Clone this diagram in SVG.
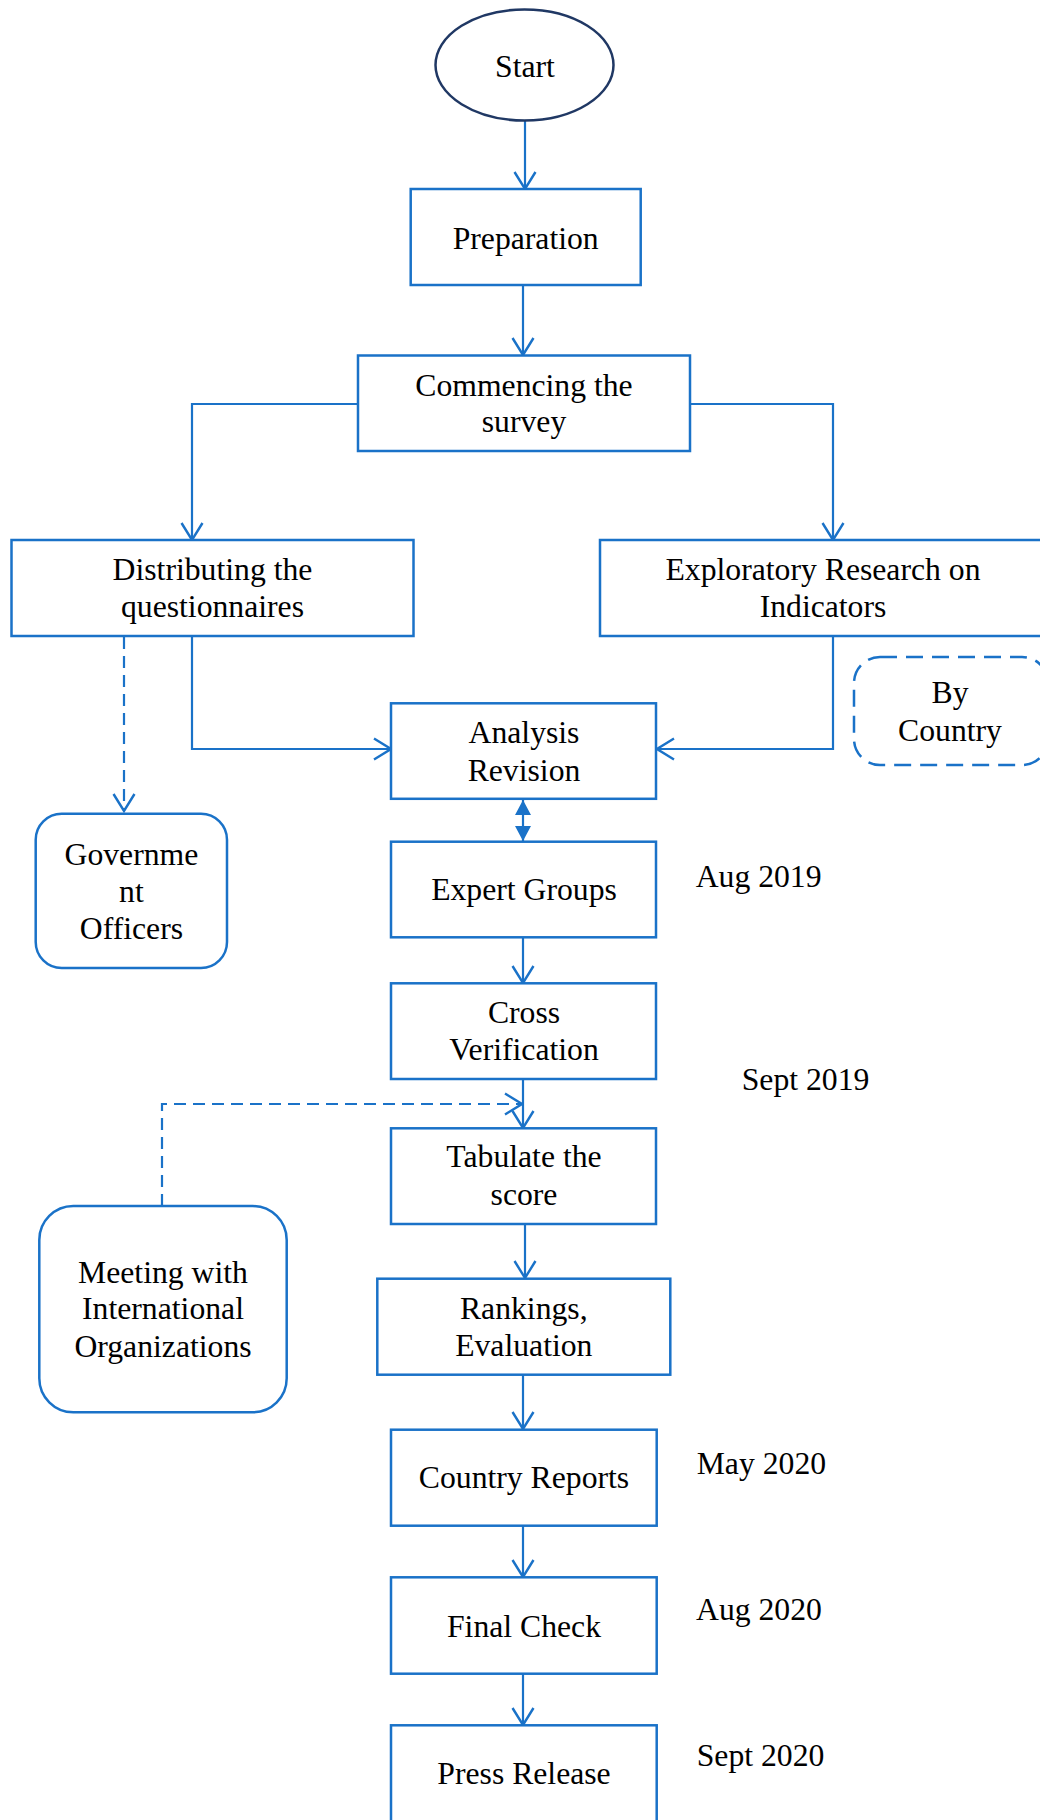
<svg xmlns="http://www.w3.org/2000/svg" width="1040" height="1820" viewBox="0 0 1040 1820">
<style>
.box{fill:#fff;stroke:#1a72c8;stroke-width:2.5}
.rbox{fill:#fff;stroke:#1a72c8;stroke-width:2.5}
.dbox{fill:#fff;stroke:#1a72c8;stroke-width:2.5;stroke-dasharray:17 9}
.t{font-family:"Liberation Serif","Times New Roman",serif;font-size:31.7px;fill:#000;text-anchor:middle}
.d{font-family:"Liberation Serif","Times New Roman",serif;font-size:31.7px;fill:#000}
.c{fill:none;stroke:#1a72c8;stroke-width:2.2}
.dash{stroke-dasharray:12 7}
</style>
<defs>
<marker id="arr" viewBox="0 0 20 24" refX="18" refY="12" markerWidth="20" markerHeight="24" markerUnits="userSpaceOnUse" orient="auto">
<path d="M1,1.5 L18,12 L1,22.5" fill="none" stroke="#1a72c8" stroke-width="2.4"/>
</marker>
<marker id="tri" viewBox="0 0 16 18" refX="15" refY="9" markerWidth="16" markerHeight="18" markerUnits="userSpaceOnUse" orient="auto-start-reverse">
<path d="M0,1 L15,9 L0,17 Z" fill="#1a72c8"/>
</marker>
</defs>

<g id="connectors">
<path class="c" d="M525,120 V189" marker-end="url(#arr)"/>
<path class="c" d="M523,285 V355" marker-end="url(#arr)"/>
<path class="c" d="M358,404 H192 V540" marker-end="url(#arr)"/>
<path class="c" d="M690,404 H833 V540" marker-end="url(#arr)"/>
<path class="c" d="M192,636 V749 H391" marker-end="url(#arr)"/>
<path class="c" d="M833,636 V749 H657" marker-end="url(#arr)"/>
<path class="c dash" d="M124,637 V811" marker-end="url(#arr)"/>
<path class="c" d="M523,800 V841" marker-start="url(#tri)" marker-end="url(#tri)"/>
<path class="c" d="M523,937 V983" marker-end="url(#arr)"/>
<path class="c" d="M523,1079 V1128" marker-end="url(#arr)"/>
<path class="c dash" d="M162,1206 V1104 H522" marker-end="url(#arr)"/>
<path class="c" d="M525,1224 V1278" marker-end="url(#arr)"/>
<path class="c" d="M523,1375 V1429" marker-end="url(#arr)"/>
<path class="c" d="M523,1525 V1577" marker-end="url(#arr)"/>
<path class="c" d="M523,1674 V1725" marker-end="url(#arr)"/>
</g>

<g id="start">
<ellipse cx="524.5" cy="65" rx="89" ry="55.5" fill="#fff" stroke="#203864" stroke-width="2.5"/>
<text class="t" x="525" y="77">Start</text>
</g>
<g id="preparation">
<rect class="box" x="410.7" y="189" width="230" height="96"/>
<text class="t" x="525.7" y="249">Preparation</text>
</g>
<g id="commencing">
<rect class="box" x="358" y="355.5" width="332" height="95.5"/>
<text class="t" x="524" y="395.7">Commencing the</text>
<text class="t" x="524" y="431.7">survey</text>
</g>
<g id="distributing">
<rect class="box" x="11.5" y="540" width="402" height="96"/>
<text class="t" x="212.5" y="580">Distributing the</text>
<text class="t" x="212.5" y="617">questionnaires</text>
</g>
<g id="exploratory">
<rect class="box" x="600" y="540" width="446" height="96"/>
<text class="t" x="823" y="580">Exploratory Research on</text>
<text class="t" x="823" y="617">Indicators</text>
</g>
<g id="by-country">
<rect class="dbox" x="854" y="657" width="194" height="108" rx="26" ry="26"/>
<text class="t" x="950" y="703">By</text>
<text class="t" x="950" y="740.7">Country</text>
</g>
<g id="analysis">
<rect class="box" x="391" y="703.3" width="265" height="95.5"/>
<text class="t" x="524" y="743.3">Analysis</text>
<text class="t" x="524" y="780.7">Revision</text>
</g>
<g id="government">
<rect class="rbox" x="35.7" y="813.7" width="191.3" height="154.3" rx="26" ry="26"/>
<text class="t" x="131.4" y="865">Governme</text>
<text class="t" x="131.4" y="901.7">nt</text>
<text class="t" x="131.4" y="939.3">Officers</text>
</g>
<g id="expert">
<rect class="box" x="391" y="841.7" width="265" height="95.6"/>
<text class="t" x="524" y="900">Expert Groups</text>
</g>
<g id="cross">
<rect class="box" x="391" y="983.3" width="265" height="95.7"/>
<text class="t" x="524" y="1023.3">Cross</text>
<text class="t" x="524" y="1060">Verification</text>
</g>
<g id="tabulate">
<rect class="box" x="391" y="1128.3" width="265" height="95.7"/>
<text class="t" x="524" y="1167.3">Tabulate the</text>
<text class="t" x="524" y="1205">score</text>
</g>
<g id="meeting">
<rect class="rbox" x="39.3" y="1206" width="247.4" height="206.3" rx="34" ry="34"/>
<text class="t" x="163" y="1282.7">Meeting with</text>
<text class="t" x="163" y="1319.3">International</text>
<text class="t" x="163" y="1356.7">Organizations</text>
</g>
<g id="rankings">
<rect class="box" x="377.3" y="1278.7" width="293" height="96"/>
<text class="t" x="523.8" y="1319">Rankings,</text>
<text class="t" x="523.8" y="1356">Evaluation</text>
</g>
<g id="country-reports">
<rect class="box" x="391" y="1429.7" width="265.7" height="96"/>
<text class="t" x="524" y="1488.3">Country Reports</text>
</g>
<g id="final-check">
<rect class="box" x="391" y="1577.3" width="265.7" height="96.4"/>
<text class="t" x="524" y="1636.7">Final Check</text>
</g>
<g id="press-release">
<rect class="box" x="391" y="1725.3" width="265.7" height="110"/>
<text class="t" x="524" y="1784">Press Release</text>
</g>
<g id="dates">
<text class="d" x="695.7" y="886.7">Aug 2019</text>
<text class="d" x="741.7" y="1090">Sept 2019</text>
<text class="d" x="696.7" y="1474.3">May 2020</text>
<text class="d" x="696" y="1620">Aug 2020</text>
<text class="d" x="696.7" y="1766">Sept 2020</text>
</g>
</svg>
